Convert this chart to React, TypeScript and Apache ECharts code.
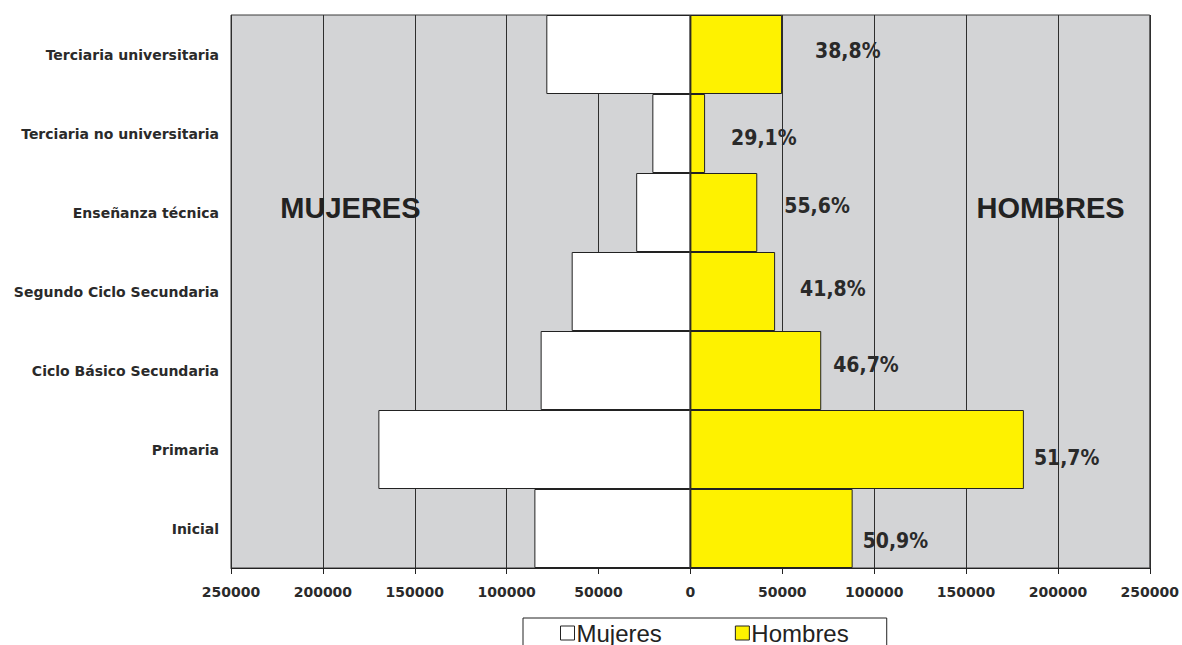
import React, { useEffect, useRef } from "react";
import * as echarts from "echarts";

const categories = [
  "Inicial",
  "Primaria",
  "Ciclo Básico Secundaria",
  "Segundo Ciclo Secundaria",
  "Enseñanza técnica",
  "Terciaria no universitaria",
  "Terciaria universitaria",
];
const mujeres = [84900, 169800, 81500, 64600, 29500, 20700, 78400];
const hombres = [88300, 181500, 71200, 46100, 36400, 8000, 49900];
const pctLabels = ["50,9%", "51,7%", "46,7%", "41,8%", "55,6%", "29,1%", "38,8%"];
const pctOffsets: [number, number][] = [
  [10, 12],
  [10, 8],
  [12, -6],
  [25, -3],
  [27, -7],
  [26, 4],
  [33, -4],
];
const xTicks = { min: -250000, max: 250000, interval: 50000 };
const sideNames = ["MUJERES", "HOMBRES"];
const sideX = [-185000, 196000];
const sideCategory = "Enseñanza técnica";

const YELLOW = "#fef200";
const INK = "#222222";

export default function App() {
  const ref = useRef<HTMLDivElement>(null);
  useEffect(() => {
    if (!ref.current) return;
    const chart = echarts.init(ref.current, null, { renderer: "svg" });
    const option: any = {
      animation: false,
      backgroundColor: "#ffffff",
      grid: {
        left: 231,
        right: 32,
        top: 15,
        bottom: 77,
        show: true,
        backgroundColor: "#d3d4d6",
        borderColor: "#3a3a3a",
        borderWidth: 1,
      },
      legend: {
        left: 523,
        top: 618,
        padding: [3, 38, 12, 37],
        borderColor: INK,
        borderWidth: 1,
        itemGap: 73,
        itemWidth: 14,
        itemHeight: 14,
        icon: "rect",
        textStyle: {
          fontFamily: "'Liberation Sans', Arial, sans-serif",
          fontSize: 24,
          color: INK,
          padding: [0, 0, 0, -3],
        },
        data: [
          { name: "Mujeres", itemStyle: { color: "#ffffff", borderColor: INK, borderWidth: 1 } },
          { name: "Hombres", itemStyle: { color: YELLOW, borderColor: INK, borderWidth: 1 } },
        ],
      },
      xAxis: {
        type: "value",
        min: xTicks.min,
        max: xTicks.max,
        interval: xTicks.interval,
        axisLine: { show: true, lineStyle: { color: INK, width: 1 } },
        axisTick: { show: true, length: 6, lineStyle: { color: INK } },
        splitLine: { show: true, lineStyle: { color: "#2e2e2e", width: 1 } },
        axisLabel: {
          margin: 17,
          fontFamily: "'DejaVu Sans', sans-serif",
          fontWeight: "bold",
          fontSize: 14,
          color: "#2a2a2a",
          formatter: (v: number) => String(Math.abs(v)),
        },
      },
      yAxis: {
        type: "category",
        data: categories,
        axisLine: { show: false },
        axisTick: { show: false },
        axisLabel: {
          margin: 12,
          fontFamily: "'DejaVu Sans', sans-serif",
          fontWeight: "bold",
          fontSize: 14,
          color: "#2a2a2a",
        },
      },
      series: [
        {
          name: "Mujeres",
          type: "bar",
          stack: "total",
          barCategoryGap: "0%",
          data: mujeres.map((v) => -v),
          itemStyle: { color: "#ffffff", borderColor: INK, borderWidth: 1 },
        },
        {
          name: "Hombres",
          type: "bar",
          stack: "total",
          barCategoryGap: "0%",
          data: hombres.map((v, i) => ({
            value: v,
            label: {
              show: true,
              position: "right",
              distance: 0,
              offset: pctOffsets[i],
              formatter: pctLabels[i],
            },
          })),
          itemStyle: { color: YELLOW, borderColor: INK, borderWidth: 1 },
          label: {
            fontFamily: "'Liberation Sans Narrow', 'Arial Narrow', 'DejaVu Sans Condensed', sans-serif",
            fontWeight: "bold",
            fontSize: 21,
            color: "#2a2a2a",
          },
        },
      ],
    };
    chart.setOption(option);
    const graphic = sideNames.map((name, i) => {
      const p = chart.convertToPixel({ gridIndex: 0 }, [sideX[i], sideCategory]) as number[];
      return {
        type: "text",
        x: p[0],
        y: p[1] - 5,
        z: 1,
        style: {
          text: name,
          fill: INK,
          font: "bold 29px 'Liberation Sans', Arial, sans-serif",
          align: "center",
          verticalAlign: "middle",
        },
      };
    });
    chart.setOption({ graphic });
    return () => chart.dispose();
  }, []);
  return (
    <div
      ref={ref}
      style={{ position: "absolute", left: 0, top: 0, width: 1182, height: 645 }}
    />
  );
}
